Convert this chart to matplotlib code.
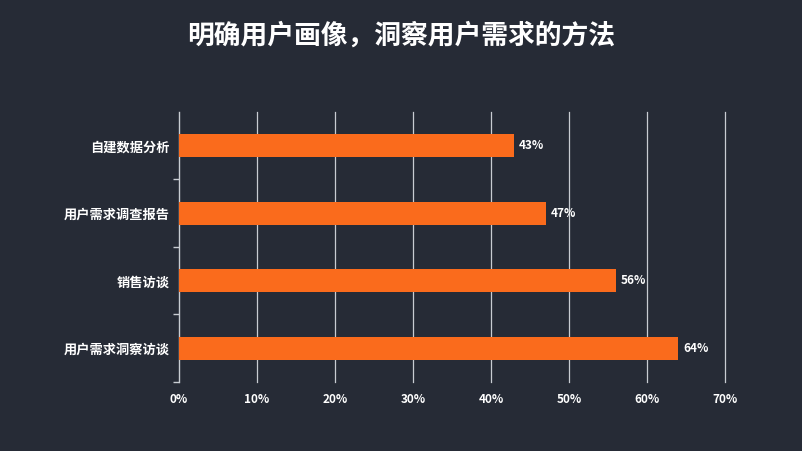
import matplotlib
matplotlib.use('Agg')
import matplotlib.pyplot as plt
from matplotlib.ticker import FuncFormatter, FixedLocator

plt.rcParams['font.family'] = ['Noto Sans CJK SC', 'DejaVu Sans']

# Data
categories = ['自建数据分析', '用户需求调查报告', '销售访谈', '用户需求洞察访谈']
values = [0.43, 0.47, 0.56, 0.64]
title = '明确用户画像，洞察用户需求的方法'

BG = '#262b36'
BAR = '#fa6b1c'
GRID = '#c8ccd2'

fig = plt.figure(figsize=(8.02, 4.51), dpi=100, facecolor=BG)
ax = fig.add_axes([0.2232, 0.153, 0.6808, 0.5987], facecolor=BG)

y = list(range(len(categories)))
ax.barh(y, values, height=0.34, color=BAR, zorder=3)
for yi, v in zip(y, values):
    ax.text(v + 0.006, yi, f'{v*100:.0f}%', va='center', ha='left',
            color='white', fontsize=8.5, fontweight='bold')

ax.set_xlim(0, 0.7)
ax.set_ylim(len(categories) - 0.5, -0.5)
ax.set_xticks([i / 10 for i in range(8)])
ax.xaxis.set_major_formatter(FuncFormatter(lambda x, _: f'{x*100:.0f}%'))
ax.tick_params(axis='x', length=0, pad=8, labelsize=8.5, labelcolor='white')
for lab in ax.get_xticklabels():
    lab.set_fontweight('bold')

ax.set_yticks(y)
ax.set_yticklabels(categories, fontsize=9.5, fontweight='bold', color='white')
ax.tick_params(axis='y', which='major', length=0, pad=7)
ax.yaxis.set_minor_locator(FixedLocator([0.5, 1.5, 2.5, 3.5]))
ax.tick_params(axis='y', which='minor', length=4, color=GRID, width=1)

ax.grid(axis='x', color=GRID, linewidth=0.9, zorder=0)
for gl in ax.xaxis.get_gridlines():
    gl.set_clip_on(False)
ax.xaxis.get_gridlines()[0].set_visible(False)
for s in ['top', 'right', 'bottom']:
    ax.spines[s].set_visible(False)
ax.spines['left'].set_color(GRID)
ax.spines['left'].set_linewidth(1)

fig.text(0.5, 0.922, title, ha='center', va='center', color='white',
         fontsize=19.3, fontweight='black')

fig.savefig('out.png', dpi=100, facecolor=BG)
